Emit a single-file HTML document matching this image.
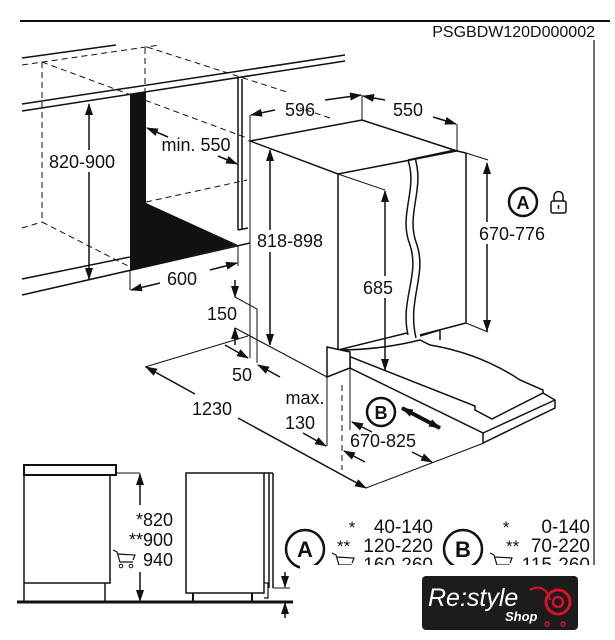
<!DOCTYPE html>
<html><head><meta charset="utf-8"><style>
html,body{margin:0;padding:0;background:#fff;}
svg{display:block;}
text{font-family:"Liberation Sans",sans-serif;fill:#111;}
</style></head><body>
<svg width="615" height="640" viewBox="0 0 615 640" xmlns="http://www.w3.org/2000/svg">
<defs>
<marker id="a" markerUnits="userSpaceOnUse" markerWidth="12" markerHeight="10" refX="11" refY="5" orient="auto"><path d="M0,1 L12,5 L0,9 Z" fill="#111"/></marker>
<marker id="s" markerUnits="userSpaceOnUse" markerWidth="12" markerHeight="10" refX="1" refY="5" orient="auto"><path d="M12,1 L0,5 L12,9 Z" fill="#111"/></marker>
</defs>
<g stroke="#111" fill="none" stroke-width="1.5">
<!-- header -->
<line x1="20" y1="21" x2="610" y2="21" stroke-width="2"/>
<line x1="594" y1="40" x2="594" y2="565" stroke-width="1.2"/>
<!-- counter -->
<line x1="22" y1="58" x2="116" y2="45"/>
<line x1="22" y1="104" x2="345" y2="55"/>
<line x1="22" y1="111" x2="345" y2="61"/>
<line x1="22" y1="279" x2="130" y2="257"/>
<line x1="22" y1="295" x2="250" y2="243"/>
<g stroke-dasharray="6,4" stroke-width="1">
<line x1="22" y1="65" x2="160" y2="45"/>
<line x1="147" y1="47" x2="290" y2="93"/>
<line x1="42" y1="62" x2="247" y2="138"/>
<line x1="42" y1="62" x2="42" y2="222"/>
<line x1="145" y1="48" x2="145" y2="95"/>
<line x1="42" y1="222" x2="130" y2="267"/>
<line x1="22" y1="228" x2="42" y2="222"/>
<line x1="146" y1="202" x2="247" y2="180"/>
<line x1="342" y1="385" x2="342" y2="470"/>
</g>
<polygon points="130,94 146,92 146,203 238,245 130,270" fill="#111" stroke="none"/>
<line x1="238" y1="77" x2="238" y2="230"/>
<line x1="242" y1="79" x2="242" y2="230"/>
<line x1="238" y1="230" x2="248" y2="228"/>
<!-- 820-900 -->
<line x1="89" y1="104" x2="89" y2="279" marker-start="url(#s)" marker-end="url(#a)"/>
<!-- min 550 -->
<line x1="168" y1="137" x2="147" y2="128" marker-end="url(#a)"/>
<line x1="218" y1="156" x2="237" y2="164" marker-end="url(#a)"/>
<!-- 600 -->
<line x1="130" y1="270" x2="130" y2="290" stroke-width="1"/>
<line x1="238" y1="245" x2="238" y2="266" stroke-width="1"/>
<line x1="160" y1="283" x2="131" y2="290" marker-end="url(#a)"/>
<line x1="210" y1="270" x2="237" y2="263" marker-end="url(#a)"/>
<!-- 596 / 550 -->
<line x1="250" y1="115" x2="250" y2="345" stroke-width="1"/>
<line x1="275" y1="110" x2="251" y2="115" marker-end="url(#a)"/>
<line x1="325" y1="100" x2="361" y2="95" marker-end="url(#a)"/>
<line x1="362" y1="95" x2="362" y2="120" stroke-width="1"/>
<line x1="385" y1="100" x2="363" y2="96" marker-end="url(#a)"/>
<line x1="433" y1="117" x2="456" y2="124" marker-end="url(#a)"/>
<line x1="457" y1="124" x2="457" y2="151" stroke-width="1"/>
<line x1="330" y1="118" x2="300" y2="108" stroke-dasharray="6,4" stroke-width="1"/>
<!-- box -->
<polygon points="250,141 362,120 457,151 338,174"/>
<line x1="338" y1="174" x2="338" y2="350"/>
<line x1="466" y1="153" x2="466" y2="323"/>
<line x1="457" y1="151" x2="466" y2="153"/>
<line x1="338" y1="350" x2="407" y2="333"/>
<line x1="420" y1="335" x2="466" y2="323"/>
<line x1="338" y1="174" x2="385" y2="190" stroke-width="1"/>
<line x1="466" y1="153" x2="488" y2="160" stroke-width="1"/>
<line x1="466" y1="323" x2="488" y2="332" stroke-width="1"/>
<path d="M408,160 C418,190 398,215 410,245 C420,275 400,300 408,335"/>
<path d="M415,158 C425,190 405,215 417,245 C427,275 407,300 416,338"/>
<path d="M408,160 L455,150"/>
<path d="M420,336 L440,330 L440,340"/>
<!-- 818-898 -->
<line x1="270" y1="150" x2="270" y2="345" marker-start="url(#s)" marker-end="url(#a)"/>
<!-- 685 -->
<line x1="385" y1="191" x2="385" y2="370" marker-start="url(#s)" marker-end="url(#a)"/>
<!-- 670-776 -->
<line x1="487" y1="163" x2="487" y2="331" marker-start="url(#s)" marker-end="url(#a)"/>
<!-- door flap -->
<path d="M338,350 L338,352 L475,406 L475,410 L492,419 L543,393 L543,390 L520,380 C490,360 460,350 430,345 L420,340 C400,345 370,350 338,350"/>
<path d="M350,356 L350,368 L483,433 L483,443 L555,408 L555,400 L543,393"/>
<path d="M483,433 L555,400"/>
<path d="M327,347 L350,352 L350,368 L327,377 Z" fill="#fff"/>
<!-- 150 / 50 / 1230 / 130 -->
<line x1="235" y1="280" x2="235" y2="297" marker-end="url(#a)"/>
<polyline points="235,297 257,309 257,363" stroke-width="1"/>
<line x1="250" y1="336" x2="250" y2="358" stroke-width="1"/>
<line x1="235" y1="345" x2="235" y2="328" marker-end="url(#a)"/>
<line x1="145" y1="367" x2="248" y2="336" stroke-width="1"/>
<line x1="235" y1="328" x2="327" y2="377" stroke-width="1.2"/>
<line x1="225" y1="345" x2="248" y2="358" marker-end="url(#a)"/>
<line x1="280" y1="377" x2="258" y2="365" marker-end="url(#a)"/>
<line x1="195" y1="394" x2="146" y2="367" marker-end="url(#a)"/>
<line x1="238" y1="418" x2="366" y2="488" marker-end="url(#a)"/>
<line x1="366" y1="488" x2="484" y2="443" stroke-width="1"/>
<line x1="327" y1="377" x2="327" y2="446" stroke-width="1"/>
<line x1="303" y1="433" x2="326" y2="446" marker-end="url(#a)"/>
<line x1="365" y1="462" x2="344" y2="451" marker-end="url(#a)"/>
<line x1="350" y1="368" x2="350" y2="430" stroke-width="1"/>
<line x1="372" y1="432" x2="352" y2="422" marker-end="url(#a)"/>
<line x1="412" y1="452" x2="432" y2="462" marker-end="url(#a)"/>
<line x1="402" y1="408" x2="440" y2="428" stroke-width="4" marker-start="url(#s)" marker-end="url(#a)"/>
<circle cx="381" cy="412" r="14" stroke-width="2.5"/>
<circle cx="523" cy="202" r="14" stroke-width="2.5"/>
<rect x="551" y="201" width="15" height="12" rx="2" stroke-width="1.5"/>
<path d="M554,201 V196 A4.5,4.5 0 0 1 563,196 V201" stroke-width="1.5"/>
<line x1="558.5" y1="205" x2="558.5" y2="209" stroke-width="1.5"/>
<!-- bottom left -->
<rect x="24" y="465" width="92" height="10" stroke-width="2"/>
<polyline points="24,475 24,602"/>
<polyline points="110,475 110,583 24,583"/>
<line x1="105" y1="583" x2="105" y2="602"/>
<line x1="17" y1="602" x2="293" y2="602" stroke-width="3"/>
<line x1="116" y1="473" x2="140" y2="473" stroke-width="1"/>
<line x1="140" y1="505" x2="140" y2="474" marker-end="url(#a)"/>
<line x1="140" y1="572" x2="140" y2="601" marker-end="url(#a)"/>
<rect x="186" y="473" width="78" height="120"/>
<line x1="264" y1="473" x2="273" y2="473"/>
<line x1="269" y1="473" x2="269" y2="588"/>
<line x1="273" y1="473" x2="273" y2="588"/>
<polyline points="264,583 268,583 268,598 264,598" stroke-width="1.2"/>
<line x1="193" y1="593" x2="193" y2="601" stroke-width="2"/>
<line x1="252" y1="593" x2="252" y2="601" stroke-width="2"/>
<line x1="273" y1="588" x2="290" y2="588" stroke-width="1"/>
<line x1="285" y1="572" x2="285" y2="587" marker-end="url(#a)"/>
<line x1="285" y1="618" x2="285" y2="603" marker-end="url(#a)"/>
<circle cx="305" cy="549" r="19" stroke-width="2.5"/>
<circle cx="463" cy="549" r="19" stroke-width="2.5"/>
<!-- carts -->
<path d="M113,550 L117,552 L120,562 L133,562 M117,554 L135,555 L133,560" stroke-width="1.2"/>
<circle cx="121" cy="566" r="1.8" stroke-width="1"/><circle cx="131" cy="566" r="1.8" stroke-width="1"/>
<path d="M332,553 L336,555 L339,565 L352,565 M336,557 L354,558 L352,563" stroke-width="1.2"/>
<circle cx="340" cy="569" r="1.8" stroke-width="1"/><circle cx="350" cy="569" r="1.8" stroke-width="1"/>
<path d="M490,553 L494,555 L497,565 L510,565 M494,557 L512,558 L510,563" stroke-width="1.2"/>
</g>
<!-- labels -->
<text x="595" y="37" font-size="16" text-anchor="end">PSGBDW120D000002</text>
<rect x="44" y="150" width="76" height="22" fill="#fff"/>
<text x="82" y="168" font-size="18" text-anchor="middle">820-900</text>
<text x="196" y="151" font-size="18" text-anchor="middle">min. 550</text>
<text x="182" y="285" font-size="18" text-anchor="middle">600</text>
<text x="300" y="116" font-size="18" text-anchor="middle">596</text>
<text x="408" y="116" font-size="18" text-anchor="middle">550</text>
<rect x="252" y="230" width="76" height="22" fill="#fff"/>
<text x="290" y="247" font-size="18" text-anchor="middle">818-898</text>
<rect x="362" y="276" width="34" height="22" fill="#fff"/>
<text x="378" y="294" font-size="18" text-anchor="middle">685</text>
<rect x="474" y="222" width="76" height="22" fill="#fff"/>
<text x="512" y="240" font-size="18" text-anchor="middle">670-776</text>
<text x="523" y="209" font-size="18" font-weight="bold" text-anchor="middle">A</text>
<text x="381" y="419" font-size="18" font-weight="bold" text-anchor="middle">B</text>
<text x="222" y="320" font-size="18" text-anchor="middle">150</text>
<text x="242" y="381" font-size="18" text-anchor="middle">50</text>
<text x="212" y="415" font-size="18" text-anchor="middle">1230</text>
<text x="305" y="404" font-size="18" text-anchor="middle">max.</text>
<text x="300" y="429" font-size="18" text-anchor="middle">130</text>
<text x="383" y="447" font-size="18" text-anchor="middle">670-825</text>
<text x="173" y="526" font-size="18" text-anchor="end">*820</text>
<text x="173" y="546" font-size="18" text-anchor="end">**900</text>
<text x="173" y="566" font-size="18" text-anchor="end">940</text>
<text x="305" y="557" font-size="22" font-weight="bold" text-anchor="middle">A</text>
<text x="463" y="557" font-size="22" font-weight="bold" text-anchor="middle">B</text>
<text x="352" y="533" font-size="17" text-anchor="middle">*</text>
<text x="433" y="533" font-size="19" text-anchor="end">40-140</text>
<text x="337" y="552" font-size="17">**</text>
<text x="433" y="552" font-size="19" text-anchor="end">120-220</text>
<text x="433" y="571" font-size="19" text-anchor="end">160-260</text>
<text x="506" y="533" font-size="17" text-anchor="middle">*</text>
<text x="590" y="533" font-size="19" text-anchor="end">0-140</text>
<text x="506" y="552" font-size="17">**</text>
<text x="590" y="552" font-size="19" text-anchor="end">70-220</text>
<text x="590" y="571" font-size="19" text-anchor="end">115-260</text>
<rect x="300" y="565" width="315" height="11" fill="#fff"/>
<!-- logo -->
<rect x="422" y="576" width="156" height="54" rx="4" fill="#1c1c1c"/>
<text x="428" y="606" font-size="25" font-style="italic" style="fill:#fff">Re:style</text>
<text x="505" y="621" font-size="13" font-style="italic" font-weight="bold" style="fill:#fff">Shop</text>
<circle cx="558" cy="602" r="12" fill="none" stroke="#d8102a" stroke-width="3"/>
<circle cx="558" cy="602" r="5" fill="none" stroke="#d8102a" stroke-width="2.5"/>
<path d="M530,590 C540,584 548,590 550,600" fill="none" stroke="#d8102a" stroke-width="2"/>
<circle cx="547" cy="624" r="2" fill="none" stroke="#d8102a" stroke-width="1.5"/>
<circle cx="563" cy="624" r="2" fill="none" stroke="#d8102a" stroke-width="1.5"/>
</svg>
</body></html>
